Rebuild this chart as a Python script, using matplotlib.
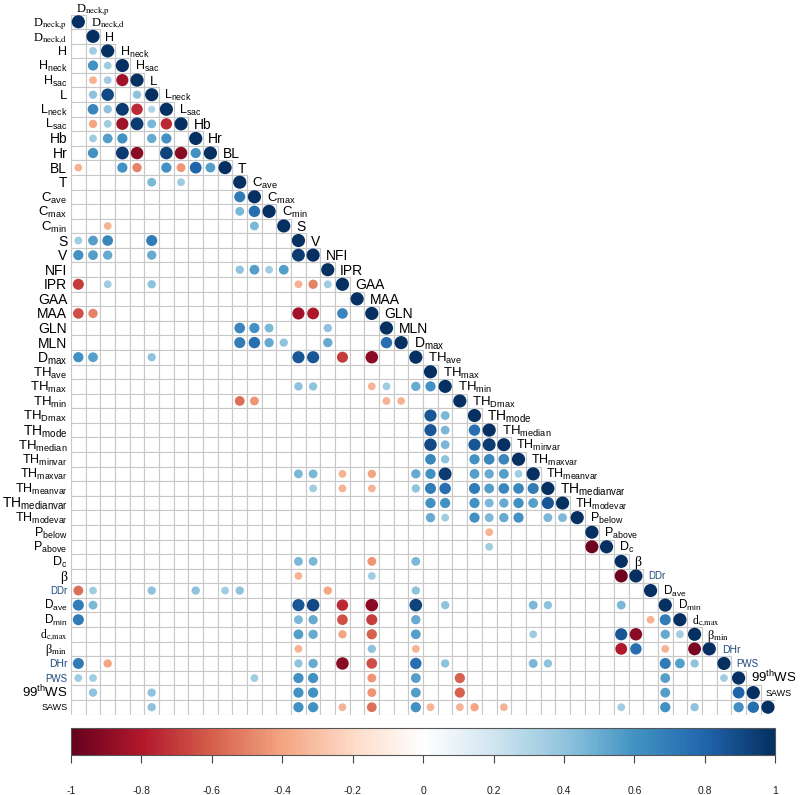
import numpy as np
import matplotlib
matplotlib.use("Agg")
import matplotlib.pyplot as plt
from matplotlib.colors import LinearSegmentedColormap, Normalize
from matplotlib.cm import ScalarMappable
from matplotlib.patches import Circle, Rectangle
from matplotlib.collections import PatchCollection

plt.rcParams['font.family'] = ['Liberation Sans', 'DejaVu Sans']
plt.rcParams['mathtext.fontset'] = 'custom'
plt.rcParams['mathtext.rm'] = 'Liberation Sans'
plt.rcParams['mathtext.it'] = 'Liberation Sans:italic'
plt.rcParams['mathtext.bf'] = 'Liberation Sans:bold'

labels = [
    r'D$_{\mathrm{neck{,}p}}$', r'D$_{\mathrm{neck{,}d}}$', 'H', r'H$_{\mathrm{neck}}$',
    r'H$_{\mathrm{sac}}$', 'L', r'L$_{\mathrm{neck}}$', r'L$_{\mathrm{sac}}$',
    'Hb', 'Hr', 'BL', 'T', r'C$_{\mathrm{ave}}$', r'C$_{\mathrm{max}}$', r'C$_{\mathrm{min}}$',
    'S', 'V', 'NFI', 'IPR', 'GAA', 'MAA', 'GLN', 'MLN', r'D$_{\mathrm{max}}$',
    r'TH$_{\mathrm{ave}}$', r'TH$_{\mathrm{max}}$', r'TH$_{\mathrm{min}}$', r'TH$_{\mathrm{Dmax}}$',
    r'TH$_{\mathrm{mode}}$', r'TH$_{\mathrm{median}}$', r'TH$_{\mathrm{minvar}}$',
    r'TH$_{\mathrm{maxvar}}$', r'TH$_{\mathrm{meanvar}}$', r'TH$_{\mathrm{medianvar}}$',
    r'TH$_{\mathrm{modevar}}$', r'P$_{\mathrm{below}}$', r'P$_{\mathrm{above}}$',
    r'D$_{\mathrm{c}}$', 'β', 'DDr', r'D$_{\mathrm{ave}}$', r'D$_{\mathrm{min}}$',
    r'd$_{\mathrm{c{,}max}}$', r'β$_{\mathrm{min}}$', 'DHr', 'PWS', r'99$^{\mathrm{th}}$WS', 'SAWS',
]
label_sizes = [
    9, 9, 9, 9, 9, 9.5, 9, 9, 10, 10, 10, 10, 9.5, 9.5, 9.5,
    10, 10, 10, 10, 10, 10, 10, 10, 10,
    9.5, 9.5, 9.5, 9.5, 10, 9.5, 9, 9, 9, 10, 9,
    9, 9, 9, 10, 7, 8.5, 8.5, 8.5, 9, 7.5, 7, 9.5, 6.5,
]
serif_labels = {0, 1, 38, 42, 43}
blue_labels = {39, 44, 45}

# significant correlations in the lower triangle: row -> {column: r}; diagonal = 1
corr = [
    {},
    {},
    {1: 0.35},
    {1: 0.6, 2: 0.35},
    {1: -0.35, 2: 0.35, 3: -0.85},
    {1: 0.4, 2: 0.9, 4: 0.4},
    {1: 0.65, 2: 0.4, 3: 0.95, 4: -0.75, 5: 0.3},
    {1: -0.4, 2: 0.35, 3: -0.85, 4: 0.95, 5: 0.45, 6: -0.75},
    {1: 0.35, 2: 0.55, 3: 0.6, 5: 0.5, 6: 0.6},
    {1: 0.6, 3: 0.95, 4: -0.9, 6: 0.92, 7: -0.9, 8: 0.6},
    {0: -0.35, 3: 0.6, 4: -0.5, 6: 0.6, 7: -0.45, 8: 0.8, 9: 0.55},
    {5: 0.45, 7: 0.35},
    {11: 0.7},
    {11: 0.45, 12: 0.75},
    {2: -0.35, 12: 0.45},
    {0: 0.35, 1: 0.55, 2: 0.65, 5: 0.7},
    {0: 0.6, 1: 0.55, 2: 0.5, 5: 0.5, 15: 0.95},
    {11: 0.4, 12: 0.55, 13: 0.35, 14: 0.55},
    {0: -0.7, 2: 0.35, 5: 0.4, 15: -0.35, 16: -0.5, 17: 0.35},
    {},
    {0: -0.65, 1: -0.5, 15: -0.85, 16: -0.8, 18: 0.65},
    {11: 0.65, 12: 0.6, 13: 0.45, 17: 0.4},
    {11: 0.7, 12: 0.75, 13: 0.5, 14: 0.4, 17: 0.5, 21: 0.75},
    {0: 0.6, 1: 0.55, 5: 0.4, 15: 0.85, 16: 0.85, 18: -0.7, 20: -0.9},
    {},
    {15: 0.4, 16: 0.4, 20: -0.35, 21: 0.35, 23: 0.5, 24: 0.6},
    {11: -0.55, 12: -0.45, 21: -0.35, 22: -0.35},
    {24: 0.85, 25: 0.45},
    {24: 0.85, 25: 0.45, 27: 0.75},
    {24: 0.9, 25: 0.45, 27: 0.85, 28: 0.95},
    {24: 0.65, 25: 0.4, 27: 0.6, 28: 0.65, 29: 0.65},
    {15: 0.45, 16: 0.45, 18: -0.35, 20: -0.4, 23: 0.5, 24: 0.6, 25: 0.95,
     27: 0.55, 28: 0.5, 29: 0.55, 30: 0.35},
    {16: 0.35, 18: -0.35, 20: -0.35, 23: 0.4, 24: 0.7, 25: 0.75, 27: 0.7,
     28: 0.55, 29: 0.65, 30: 0.65, 31: 0.7},
    {24: 0.6, 25: 0.6, 27: 0.6, 28: 0.45, 29: 0.5, 30: 0.6, 31: 0.55, 32: 0.85},
    {24: 0.5, 25: 0.35, 27: 0.6, 28: 0.45, 29: 0.5, 30: 0.6, 32: 0.45, 33: 0.45},
    {28: -0.35},
    {28: 0.35, 35: -0.98},
    {15: 0.45, 16: 0.45, 20: -0.45, 23: 0.45},
    {15: -0.35, 20: 0.35, 37: -0.98},
    {0: -0.55, 1: 0.35, 5: 0.4, 8: 0.4, 10: 0.35, 11: 0.4, 17: -0.4, 23: 0.4},
    {0: 0.7, 1: 0.45, 15: 0.85, 16: 0.9, 18: -0.75, 20: -0.9, 23: 0.92, 25: 0.4,
     31: 0.45, 32: 0.4, 37: 0.45},
    {0: 0.7, 15: 0.45, 16: 0.5, 18: -0.65, 20: -0.7, 23: 0.5, 39: -0.35, 40: 0.7},
    {15: 0.55, 16: 0.5, 18: -0.4, 20: -0.6, 23: 0.55, 31: 0.35, 37: 0.85,
     38: -0.9, 40: 0.5, 41: 0.35},
    {15: -0.35, 20: 0.4, 23: -0.35, 37: -0.8, 38: 0.75, 40: -0.35, 42: -0.95},
    {0: 0.7, 2: -0.4, 15: 0.4, 16: 0.5, 18: -0.9, 20: -0.65, 23: 0.75, 25: 0.4,
     31: 0.45, 32: 0.4, 40: 0.7, 41: 0.55, 42: 0.4},
    {0: 0.35, 1: 0.35, 12: 0.35, 15: 0.6, 16: 0.6, 20: -0.45, 23: 0.55, 26: -0.6,
     40: 0.55, 44: 0.35},
    {1: 0.4, 5: 0.4, 15: 0.6, 16: 0.6, 20: -0.45, 23: 0.55, 26: -0.6, 40: 0.55, 45: 0.8},
    {5: 0.4, 15: 0.6, 16: 0.6, 18: -0.35, 20: -0.55, 23: 0.6, 24: -0.35, 26: -0.35,
     27: -0.4, 29: -0.35, 37: 0.35, 40: 0.6, 42: 0.4, 45: 0.6, 46: 0.75},
]

bar_ticks = [-1, -0.8, -0.6, -0.4, -0.2, 0, 0.2, 0.4, 0.6, 0.8, 1]
bar_tick_labels = ['-1', '-0.8', '-0.6', '-0.4', '-0.2', '0', '0.2', '0.4', '0.6', '0.8', '1']

palette = ["#67001F", "#B2182B", "#D6604D", "#F4A582", "#FDDBC7", "#FFFFFF",
           "#D1E5F0", "#92C5DE", "#4393C3", "#2166AC", "#053061"]
cmap = LinearSegmentedColormap.from_list("corr", palette, N=200)
norm = Normalize(-1, 1)

n = len(labels)
fig = plt.figure(figsize=(8, 7.95), dpi=100)
ax = fig.add_axes([71 / 800, 1 - 714.5 / 795, 704.3 / 800, 700 / 795])
ax.set_xlim(0, n)
ax.set_ylim(n, 0)
ax.axis('off')

# grid of the lower triangle
cells = [Rectangle((j, i), 1, 1) for i in range(n) for j in range(i + 1)]
ax.add_collection(PatchCollection(cells, facecolor='white', edgecolor='#c8c8c8',
                                  linewidth=0.8))

circles, colors = [], []
for i, row in enumerate(corr):
    vals = dict(row)
    vals[i] = 1.0
    for j, r in vals.items():
        circles.append(Circle((j + 0.5, i + 0.5), 0.45 * np.sqrt(abs(r))))
        colors.append(cmap(norm(r)))
ax.add_collection(PatchCollection(circles, facecolor=colors, edgecolor='none'))

for k, lab in enumerate(labels):
    fs = label_sizes[k]
    kw = dict(fontsize=fs, color='#1f497d' if k in blue_labels else 'black',
              textcoords='offset points', va='baseline', annotation_clip=False)
    if k in serif_labels:
        kw.update(family='Liberation Serif', math_fontfamily='stix')
    # left labels
    ax.annotate(lab, xy=(-0.25, k + 0.5), xytext=(0, -0.36 * fs), ha='right', **kw)
    # labels along the diagonal
    ax.annotate(lab, xy=(k + 0.35, k - 0.5), xytext=(0, -0.36 * fs), ha='left', **kw)

cax = fig.add_axes([71 / 800, 1 - 755 / 795, 704.3 / 800, 27 / 795])
cb = fig.colorbar(ScalarMappable(norm=norm, cmap=cmap), cax=cax, orientation='horizontal')
cb.set_ticks(bar_ticks)
cb.set_ticklabels(bar_tick_labels)
cax.tick_params(length=6, width=0.8, pad=16, labelsize=7.5, color='#444444',
                labelcolor='#222222')
cb.outline.set_edgecolor('#555555')
cb.outline.set_linewidth(0.8)

fig.savefig("out.png", dpi=100)
